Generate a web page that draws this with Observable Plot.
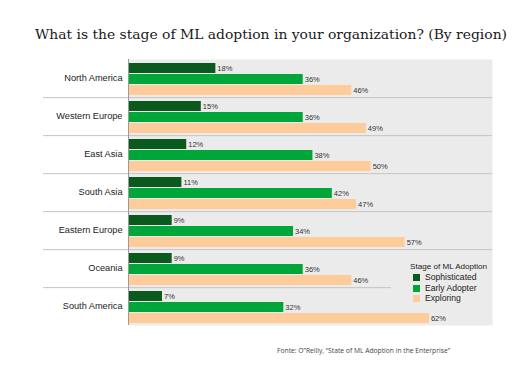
<!DOCTYPE html>
<html><head><meta charset="utf-8">
<script src="https://cdn.jsdelivr.net/npm/d3@7"></script>
<script src="https://cdn.jsdelivr.net/npm/@observablehq/plot@0.6"></script>
<style>
body{margin:0;background:#fff;}
#wrap{position:relative;width:525px;height:379px;overflow:hidden;font-family:"Liberation Sans",Arial,sans-serif;background:#fff;}
#title{position:absolute;left:0;top:0;}
#chart{position:absolute;left:0;top:57px;}
#legend{position:absolute;left:391px;top:261px;width:101px;height:46px;background:#ebebeb;color:#222;}
#legend .lt{position:absolute;left:19px;top:1px;font-size:8.1px;white-space:nowrap;}
#legend .it{position:absolute;left:34px;font-size:8.6px;white-space:nowrap;}
#legend .sw{position:absolute;left:-12px;top:2px;width:7px;height:7px;}
#caption{position:absolute;left:0;top:338px;}
</style></head>
<body><div id="wrap">
<svg id="title" width="525" height="57"><text x="271" y="38.5" text-anchor="middle" font-family="DejaVu Serif" font-size="12.8px" fill="#1a1a1a" textLength="472" lengthAdjust="spacingAndGlyphs">What is the stage of ML adoption in your organization? (By region)</text></svg>
<div id="chart"></div>
<div id="legend"></div>
<svg id="caption" width="525" height="30"><text x="277" y="14.5" font-family="Open Sans" font-size="7.6px" fill="#444" textLength="173" lengthAdjust="spacingAndGlyphs">Fonte: O”Reilly, “State of ML Adoption in the Enterprise”</text></svg>
</div>
<script>
const regions = ["North America","Western Europe","East Asia","South Asia","Eastern Europe","Oceania","South America"];
const stages = ["Sophisticated","Early Adopter","Exploring"];
const sophisticated = [18,15,12,11,9,9,7];
const earlyAdopter = [36,36,38,42,34,36,32];
const exploring = [46,49,50,47,57,46,62];
const stageColors = ["#0b5a1d","#00a63a","#fecb9b"];
const legendTitle = "Stage of ML Adoption";

const series = [sophisticated, earlyAdopter, exploring];
const data = [];
regions.forEach((r,i)=>stages.forEach((s,j)=>data.push({region:r, stage:s, value:series[j][i]})));

const chart = Plot.plot({
  width:525, height:270,
  marginTop:0, marginBottom:0, marginLeft:128, marginRight:33,
  x:{domain:[0,75], axis:null},
  y:{domain:stages, axis:null, paddingInner:0.1, paddingOuter:0.2, align:0.6},
  fy:{domain:regions, padding:0, axis:null},
  color:{domain:stages, range:stageColors},
  style:{fontFamily:'"Liberation Sans", Arial, sans-serif', background:"transparent", color:"#222"},
  marks:[
    Plot.frame({fill:"#ebebeb", stroke:"none"}),
    Plot.ruleY(regions.slice(0,-1), {fy:d=>d, y:()=>"Exploring", dy:7.13, insetLeft:-85, stroke:"#c4c4c4", strokeWidth:1}),
    Plot.barX(data, {fy:"region", y:"stage", x:"value", fill:"stage"}),
    Plot.ruleX([0], {stroke:"#9a9a9a"}),
    Plot.text(data, {fy:"region", y:"stage", x:"value", text:d=>d.value+"%", textAnchor:"start", dx:1.5, fontSize:7.5, fill:"#333"}),
    Plot.axisFy({anchor:"left", tickSize:0, tickPadding:6, fontSize:9.2, label:null, fill:"#222"})
  ]
});
document.getElementById("chart").appendChild(chart);

const lg = document.getElementById("legend");
const t = document.createElement("div"); t.className="lt"; t.textContent=legendTitle; lg.appendChild(t);
stages.forEach((s,i)=>{
  const it=document.createElement("div"); it.className="it"; it.style.top=(11+i*10.5)+"px";
  const sw=document.createElement("span"); sw.className="sw"; sw.style.background=stageColors[i];
  it.appendChild(sw); it.appendChild(document.createTextNode(s)); lg.appendChild(it);
});
</script>
</body></html>
